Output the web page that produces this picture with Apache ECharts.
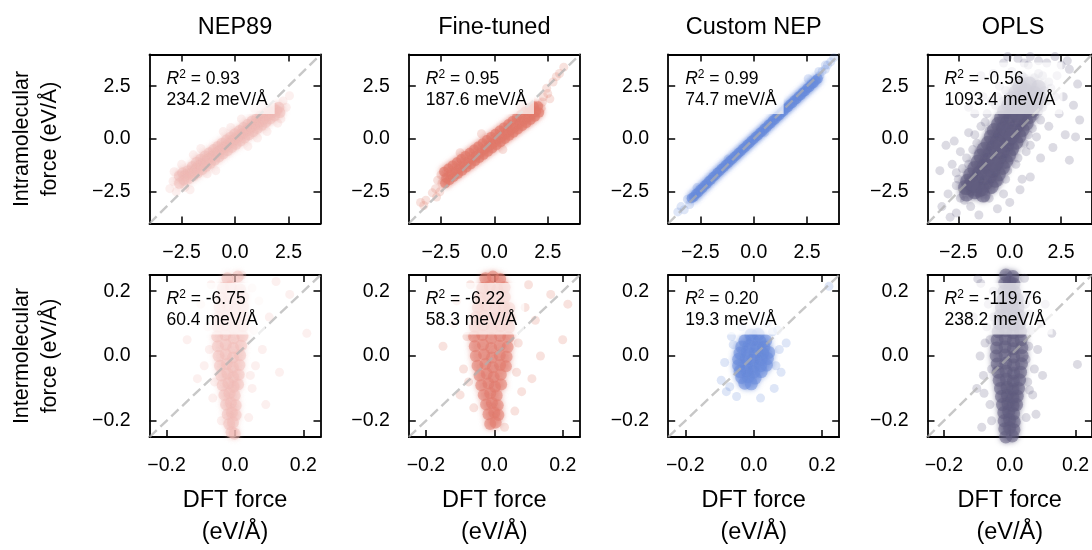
<!DOCTYPE html>
<html><head><meta charset="utf-8">
<script src="https://cdn.jsdelivr.net/npm/echarts@6/dist/echarts.min.js"></script>
<style>html,body{margin:0;padding:0;background:#fff}#c{width:1092px;height:550px}</style>
</head><body><div id="c"></div>
<script>
// ---------- data ----------
const models = ['NEP89', 'Fine-tuned', 'Custom NEP', 'OPLS'];
const rowLabels = ['Intramolecular\nforce (eV/Å)', 'Intermolecular\nforce (eV/Å)'];
const xLabel = 'DFT force\n(eV/Å)';
const colors = ['#F0BBB5', '#E17A6B', '#698CDC', '#615D7F'];
const r2Intra = ['0.93', '0.95', '0.99', '-0.56'];
const rmseIntra = ['234.2', '187.6', '74.7', '1093.4'];
const r2Inter = ['-6.75', '-6.22', '0.20', '-119.76'];
const rmseInter = ['60.4', '58.3', '19.3', '238.2'];
const limIntra = [-4, 4];
const limInter = [-0.25, 0.25];
const ticksIntra = [-2.5, 0, 2.5];
const ticksInter = [-0.2, 0, 0.2];

const nep89IntraCore = [[-2.6,-1.75],[-2.6,-2.1],[-2.45,-1.6],[-2.4,-1.95],[-2.3,-1.7],[-2.2,-1.5],[-2.2,-1.9],[-2.05,-1.6],[-2.0,-1.3],[-1.95,-1.75],[-1.85,-1.4],[-1.8,-1.1],[-1.75,-1.6],[-1.65,-1.25],[-1.6,-0.95],[-1.55,-1.45],[-1.45,-1.1],[-1.4,-0.8],[-1.35,-1.3],[-1.25,-0.95],[-1.2,-0.65],[-1.15,-1.15],[-1.05,-0.8],[-1.0,-0.5],[-0.95,-1.0],[-0.85,-0.65],[-0.8,-0.35],[-0.75,-0.85],[-0.65,-0.5],[-0.6,-0.2],[-0.55,-0.7],[-0.45,-0.35],[-0.4,-0.05],[-0.35,-0.55],[-0.25,-0.2],[-0.2,0.1],[-0.15,-0.4],[-0.05,-0.05],[0.0,0.25],[0.05,-0.25],[0.15,0.1],[0.2,0.4],[0.25,-0.1],[0.35,0.25],[0.4,0.55],[0.45,0.05],[0.55,0.4],[0.6,0.7],[0.65,0.2],[0.75,0.55],[0.8,0.85],[0.85,0.35],[0.95,0.7],[1.0,0.95],[1.05,0.5],[1.15,0.8],[1.2,1.1],[1.25,0.65],[1.35,0.95],[1.4,1.2],[1.45,0.8],[1.55,1.1],[1.6,1.35],[1.65,0.95],[1.75,1.25],[1.8,1.45],[1.85,1.1],[1.95,1.35],[2.05,1.5],[2.1,1.25]];
const nep89IntraSparse = [[-3.05,-2.35],[-2.85,-1.55],[-2.75,-2.5],[-2.1,-2.4],[-1.95,-0.75],[-1.3,-1.65],[-0.9,-1.5],[-0.55,0.35],[0.3,0.95],[0.6,-0.35],[1.05,0.05],[1.5,0.35],[2.15,0.95],[2.25,1.8],[2.4,1.5],[2.55,2.05],[-2.5,-1.2],[0.9,1.45],[-1.6,-0.45],[2.0,0.75],[-2.9,-2.0],[-2.35,-2.3],[1.3,1.6],[-0.2,0.55]];

const ftIntraCore = [[-2.35,-1.55],[-2.3,-2.1],[-2.25,-1.85],[-2.15,-1.4],[-2.1,-1.95],[-2.05,-1.7],[-1.95,-1.25],[-1.9,-1.8],[-1.85,-1.55],[-1.75,-1.1],[-1.7,-1.65],[-1.65,-1.4],[-1.55,-0.95],[-1.5,-1.5],[-1.45,-1.25],[-1.35,-0.8],[-1.3,-1.35],[-1.25,-1.1],[-1.15,-0.65],[-1.1,-1.2],[-1.05,-0.95],[-0.95,-0.5],[-0.9,-1.05],[-0.85,-0.8],[-0.75,-0.35],[-0.7,-0.9],[-0.65,-0.65],[-0.55,-0.2],[-0.5,-0.75],[-0.45,-0.5],[-0.35,-0.05],[-0.3,-0.6],[-0.25,-0.35],[-0.15,0.1],[-0.1,-0.45],[-0.05,-0.2],[0.05,0.25],[0.1,-0.3],[0.15,-0.05],[0.25,0.4],[0.3,-0.15],[0.35,0.1],[0.45,0.55],[0.5,0.0],[0.55,0.25],[0.65,0.7],[0.7,0.15],[0.75,0.4],[0.85,0.85],[0.9,0.3],[0.95,0.55],[1.05,1.0],[1.1,0.45],[1.15,0.7],[1.25,1.15],[1.3,0.6],[1.35,0.85],[1.45,1.3],[1.5,0.75],[1.55,1.0],[1.65,1.45],[1.7,0.9],[1.75,1.15],[1.85,1.55],[1.9,1.05],[1.95,1.3],[2.05,1.55],[2.1,1.25]];
const ftIntraSparse = [[-3.45,-3.0],[-3.3,-3.15],[-3.2,-2.9],[-2.9,-2.55],[-2.75,-2.35],[-2.65,-1.95],[-2.55,-2.5],[-2.7,-2.75],[-1.6,-0.65],[-0.6,0.25],[0.4,-0.5],[1.2,1.6],[2.2,1.45],[2.3,2.0],[2.45,2.4],[2.6,1.9],[2.75,2.7],[2.9,2.95],[3.05,3.1],[3.25,3.4],[2.5,2.15],[-2.45,-2.1],[-2.5,-1.7],[2.25,1.75]];

const customIntraCore = [[-2.9,-2.8],[-2.8,-2.73],[-2.7,-2.6],[-2.6,-2.53],[-2.5,-2.4],[-2.4,-2.33],[-2.3,-2.2],[-2.2,-2.13],[-2.1,-2.0],[-2.0,-1.93],[-1.9,-1.8],[-1.8,-1.73],[-1.7,-1.6],[-1.6,-1.53],[-1.5,-1.41],[-1.4,-1.34],[-1.3,-1.22],[-1.2,-1.15],[-1.1,-1.03],[-1.0,-0.96],[-0.9,-0.84],[-0.8,-0.77],[-0.7,-0.65],[-0.6,-0.58],[-0.5,-0.46],[-0.4,-0.39],[-0.3,-0.27],[-0.2,-0.2],[-0.1,-0.08],[0.0,-0.01],[0.1,0.11],[0.2,0.17],[0.3,0.3],[0.4,0.36],[0.5,0.49],[0.6,0.55],[0.7,0.68],[0.8,0.74],[0.9,0.87],[1.0,0.93],[1.1,1.06],[1.2,1.12],[1.3,1.25],[1.4,1.31],[1.5,1.44],[1.6,1.5],[1.7,1.63],[1.8,1.69],[1.9,1.82],[2.0,1.88],[2.1,2.01],[2.2,2.07],[2.3,2.2],[2.4,2.26],[2.5,2.39],[2.6,2.45],[2.7,2.58],[2.8,2.64],[2.9,2.77],[3.0,2.85]];
const customIntraSparse = [[-3.55,-3.45],[-3.4,-3.2],[-3.25,-3.35],[-3.1,-2.85],[-3.0,-3.1],[-2.65,-2.3],[3.1,3.0],[3.2,3.2],[3.35,3.3],[3.45,3.5],[3.6,3.65],[3.75,3.85],[2.55,2.85],[-1.2,-0.95],[0.5,0.3],[3.05,3.2],[3.35,3.5]];

const oplsIntraCore = [[-2.1,-2.6],[-1.7,-2.5],[-1.3,-2.65],[-2.15,-2.3],[-1.75,-2.2],[-1.35,-2.35],[-0.9,-2.25],[-2.05,-2.0],[-1.6,-1.9],[-1.15,-2.05],[-0.7,-1.95],[-1.9,-1.7],[-1.45,-1.6],[-1.0,-1.75],[-0.55,-1.65],[-1.7,-1.4],[-1.25,-1.3],[-0.8,-1.45],[-0.35,-1.35],[-1.55,-1.1],[-1.1,-1.0],[-0.65,-1.15],[-0.2,-1.05],[-1.4,-0.8],[-0.95,-0.7],[-0.5,-0.85],[-0.05,-0.75],[-1.25,-0.5],[-0.8,-0.4],[-0.35,-0.55],[0.1,-0.45],[-1.05,-0.2],[-0.6,-0.1],[-0.15,-0.25],[0.3,-0.15],[-0.9,0.1],[-0.45,0.2],[0.0,0.05],[0.45,0.15],[-0.75,0.4],[-0.3,0.5],[0.15,0.35],[0.6,0.45],[-0.55,0.7],[-0.1,0.8],[0.35,0.65],[0.8,0.75],[-0.4,1.0],[0.05,1.1],[0.5,0.95],[0.95,1.05],[-0.25,1.3],[0.2,1.4],[0.65,1.25],[1.1,1.35],[-0.05,1.6],[0.4,1.7],[0.85,1.55],[1.3,1.65],[0.1,1.9],[0.55,2.0],[1.0,1.85],[1.45,1.95],[0.3,2.2],[0.75,2.3],[1.2,2.15],[0.5,2.5],[0.95,2.6],[1.4,2.45],[-1.5,-2.4],[-1.2,-1.55],[-0.75,-1.2],[-0.45,-0.3],[-0.2,0.45],[0.35,1.2],[0.7,1.9],[-1.85,-2.1],[0.1,0.15]];
const oplsIntraSparse = [[-3.3,-3.2],[-3.0,-2.6],[-2.8,-1.2],[-2.6,-3.5],[-2.4,-0.6],[-2.2,-2.9],[-2.0,0.3],[-1.9,-3.2],[-1.7,1.2],[-1.6,-0.2],[-1.5,-3.6],[-1.3,2.0],[-1.2,0.8],[-1.0,-2.8],[-0.9,1.8],[-0.8,3.1],[-0.6,-3.3],[-0.5,2.5],[-0.3,3.6],[-0.2,-1.9],[0.0,-3.0],[0.1,3.2],[0.3,-1.2],[0.4,3.8],[0.5,-2.4],[0.7,2.9],[0.8,-0.6],[0.9,3.5],[1.0,-1.8],[1.1,2.2],[1.3,0.1],[1.4,3.1],[1.5,-0.9],[1.6,1.5],[1.8,3.6],[1.9,0.6],[2.0,2.4],[2.1,-0.4],[2.3,3.0],[2.4,1.2],[2.6,2.0],[2.7,0.2],[2.9,3.3],[3.1,1.6],[3.3,2.6],[-2.5,-1.9],[-1.1,-1.5],[0.2,1.4],[1.2,1.1],[-0.4,0.9],[-3.1,-0.3],[3.4,0.9],[-0.7,-0.3],[0.6,0.7],[2.2,3.9],[1.0,3.9],[-2.9,-3.7],[-2.6,-2.2],[-2.4,-2.8],[-1.9,-2.5],[-1.2,-2.8],[-0.5,-2.0],[-0.1,-1.5],[0.4,-0.9],[0.7,-0.2],[1.1,0.5],[1.5,0.9],[1.8,1.8],[1.9,2.7],[1.6,3.0],[1.2,2.9],[0.6,3.0],[0.2,2.7],[-0.2,2.3],[-0.7,1.6],[-1.1,1.2],[-1.4,0.6],[-1.7,0.2],[-1.8,-0.5],[-2.1,-0.9],[-2.3,-1.4],[-2.6,-1.6],[-0.9,-2.4],[0.2,-0.6],[0.9,0.2],[1.4,1.3],[1.7,2.3],[-0.6,2.0],[-1.0,0.4],[-1.5,-0.6],[-2.0,-1.2],[0.0,-1.0],[-0.3,1.8],[2.2,2.0],[0.4,2.9],[-2.2,-2.4],[1.0,-0.3],[2.5,3.5],[2.8,3.7],[1.4,3.7],[0.7,3.6],[-0.1,3.9],[-1.4,3.0],[-2.0,1.5],[-3.4,-1.5],[-2.7,-0.1],[3.2,0.1],[2.9,-1.0],[0.6,-1.9],[-0.3,-2.6]];

const nep89InterCore = [[-0.022,0.24],[0.008,0.245],[-0.035,0.21],[-0.012,0.215],[0.015,0.205],[-0.04,0.18],[-0.018,0.185],[0.005,0.175],[0.024,0.182],[-0.045,0.15],[-0.022,0.155],[0.0,0.145],[0.024,0.152],[-0.048,0.12],[-0.025,0.125],[0.0,0.115],[0.025,0.122],[-0.05,0.09],[-0.027,0.095],[-0.003,0.085],[0.023,0.092],[-0.052,0.06],[-0.028,0.065],[-0.004,0.055],[0.022,0.062],[-0.05,0.03],[-0.027,0.035],[-0.005,0.025],[0.018,0.032],[-0.048,0.0],[-0.027,0.005],[-0.006,-0.005],[0.015,0.002],[-0.044,-0.03],[-0.024,-0.025],[-0.006,-0.035],[0.013,-0.028],[-0.04,-0.06],[-0.022,-0.055],[-0.005,-0.065],[0.011,-0.058],[-0.036,-0.09],[-0.019,-0.085],[-0.004,-0.095],[0.009,-0.088],[-0.031,-0.12],[-0.016,-0.115],[-0.001,-0.122],[-0.026,-0.15],[-0.012,-0.145],[0.002,-0.152],[-0.021,-0.18],[-0.009,-0.175],[0.002,-0.182],[-0.017,-0.21],[-0.006,-0.205],[-0.01,-0.235],[-0.001,-0.24]];
const nep89InterSparse = [[-0.14,0.05],[0.13,-0.05],[0.21,0.07],[-0.09,-0.03],[0.08,0.02],[-0.065,-0.13],[0.05,-0.1],[0.07,0.17],[-0.1,0.16],[0.12,0.23],[0.02,0.25],[0.04,-0.19],[0.1,0.12],[-0.08,0.09],[0.06,-0.03],[-0.11,-0.07],[0.16,0.19],[-0.04,-0.2],[0.09,-0.15],[-0.07,0.22],[0.05,0.21],[-0.075,0.02],[0.055,0.08],[-0.06,-0.08],[0.045,-0.06]];

const ftInterCore = [[-0.026,0.24],[-0.004,0.245],[0.017,0.238],[-0.035,0.21],[-0.013,0.215],[0.009,0.205],[0.03,0.212],[-0.042,0.18],[-0.018,0.185],[0.007,0.175],[0.031,0.182],[-0.048,0.15],[-0.024,0.155],[0.003,0.145],[0.028,0.152],[0.044,0.148],[-0.054,0.12],[-0.029,0.125],[-0.004,0.115],[0.022,0.122],[0.045,0.118],[-0.057,0.09],[-0.032,0.095],[-0.007,0.085],[0.019,0.092],[0.043,0.088],[-0.059,0.06],[-0.035,0.065],[-0.009,0.055],[0.017,0.062],[0.041,0.058],[-0.057,0.03],[-0.033,0.035],[-0.009,0.025],[0.016,0.032],[0.039,0.028],[-0.054,0.0],[-0.03,0.005],[-0.007,-0.005],[0.016,0.002],[0.036,-0.002],[-0.049,-0.03],[-0.026,-0.025],[-0.004,-0.035],[0.017,-0.028],[0.034,-0.032],[-0.043,-0.06],[-0.022,-0.055],[-0.002,-0.065],[0.019,-0.058],[-0.038,-0.09],[-0.017,-0.085],[0.002,-0.095],[0.02,-0.088],[-0.031,-0.12],[-0.012,-0.115],[0.007,-0.122],[-0.024,-0.15],[-0.007,-0.145],[0.01,-0.152],[-0.017,-0.18],[0.0,-0.175],[0.012,-0.182],[-0.012,-0.21],[0.004,-0.205]];
const ftInterSparse = [[0.2,0.05],[0.165,0.19],[-0.12,0.1],[0.11,-0.07],[-0.1,-0.12],[0.09,0.15],[0.135,0.0],[-0.15,0.03],[0.06,-0.17],[-0.07,0.22],[0.12,0.11],[0.215,0.16],[-0.09,-0.04],[0.08,-0.11],[-0.06,-0.16],[0.07,0.04],[-0.11,0.17],[0.03,-0.22],[0.1,0.22],[-0.08,0.06],[0.065,-0.05],[-0.075,-0.08]];

const customInterCore = [[-0.008,0.065],[0.013,0.067],[-0.026,0.047],[-0.004,0.049],[0.018,0.045],[0.035,0.047],[-0.035,0.028],[-0.013,0.03],[0.009,0.026],[0.03,0.028],[-0.04,0.009],[-0.018,0.011],[0.004,0.007],[0.026,0.009],[0.044,0.011],[-0.044,-0.01],[-0.022,-0.008],[0.0,-0.012],[0.022,-0.01],[0.04,-0.008],[-0.044,-0.03],[-0.022,-0.028],[0.0,-0.032],[0.02,-0.03],[0.037,-0.028],[-0.04,-0.048],[-0.02,-0.046],[0.0,-0.05],[0.022,-0.048],[-0.035,-0.066],[-0.016,-0.064],[0.004,-0.068],[-0.026,-0.084],[-0.007,-0.086]];
const customInterSparse = [[-0.08,-0.11],[0.07,0.08],[-0.085,-0.02],[0.08,-0.05],[0.04,0.1],[-0.05,-0.125],[0.095,0.04],[-0.095,-0.075],[0.02,-0.13],[-0.035,0.09],[0.22,0.215],[0.06,-0.1],[-0.065,0.06],[0.075,0.02],[-0.07,-0.095],[0.055,0.075],[-0.06,0.035],[0.065,-0.03]];

const oplsInterCore = [[-0.012,0.25],[0.01,0.245],[-0.015,0.225],[0.0,0.228],[0.013,0.222],[-0.017,0.2],[0.0,0.205],[0.015,0.198],[-0.021,0.175],[-0.004,0.178],[0.012,0.172],[0.023,0.176],[-0.025,0.15],[-0.008,0.153],[0.008,0.147],[0.025,0.15],[-0.029,0.125],[-0.01,0.128],[0.01,0.122],[0.028,0.126],[-0.032,0.1],[-0.011,0.103],[0.01,0.097],[0.03,0.1],[-0.035,0.075],[-0.012,0.078],[0.01,0.072],[0.033,0.076],[-0.038,0.05],[-0.013,0.053],[0.011,0.047],[0.035,0.05],[-0.04,0.025],[-0.014,0.028],[0.011,0.022],[0.037,0.026],[-0.041,0.0],[-0.014,0.003],[0.012,-0.003],[0.038,0.001],[-0.038,-0.025],[-0.012,-0.022],[0.012,-0.028],[0.036,-0.024],[-0.035,-0.05],[-0.011,-0.047],[0.012,-0.053],[0.033,-0.05],[-0.032,-0.075],[-0.01,-0.072],[0.011,-0.078],[0.03,-0.074],[-0.028,-0.1],[-0.008,-0.097],[0.01,-0.103],[0.027,-0.1],[-0.025,-0.125],[-0.007,-0.122],[0.01,-0.128],[0.023,-0.124],[-0.022,-0.15],[-0.005,-0.147],[0.01,-0.153],[0.021,-0.15],[-0.018,-0.175],[-0.003,-0.172],[0.012,-0.178],[-0.017,-0.2],[0.0,-0.197],[0.014,-0.203],[-0.015,-0.225],[0.0,-0.222],[0.013,-0.228],[-0.012,-0.25],[0.008,-0.247]];
const oplsInterSparse = [[-0.097,0.238],[0.206,-0.026],[0.128,0.07],[-0.07,0.09],[0.075,-0.04],[-0.08,-0.06],[0.06,0.13],[-0.065,0.16],[0.085,0.02],[-0.09,0.0],[0.07,-0.12],[-0.06,-0.15],[0.05,-0.19],[-0.05,0.2],[0.095,0.1],[-0.1,-0.1],[0.06,0.19],[-0.075,0.04],[0.055,-0.08],[-0.055,-0.2],[0.1,-0.06],[-0.11,0.12],[0.045,0.24],[0.08,-0.18],[-0.085,-0.22],[0.065,0.08],[-0.088,0.224],[0.108,0.16],[-0.078,-0.115],[0.06,-0.105],[-0.06,0.05],[0.058,0.03],[-0.055,-0.04],[0.05,-0.01],[-0.05,0.12],[0.048,0.16]];

const coreData = [[nep89IntraCore, ftIntraCore, customIntraCore, oplsIntraCore],
                  [nep89InterCore, ftInterCore, customInterCore, oplsInterCore]];
const sparseData = [[nep89IntraSparse, ftIntraSparse, customIntraSparse, oplsIntraSparse],
                    [nep89InterSparse, ftInterSparse, customInterSparse, oplsInterSparse]];

// ---------- layout / style ----------
const FONT = 'Liberation Sans, Arial, sans-serif';
const colLeft = [149.5, 408.8, 668.2, 927.5];
const rowTop = [54.5, 275];
const W = 171, H = 169;
const coreSize = [[11, 10, 10, 15], [12, 12, 13, 13]];
const coreOpacity = [[0.45, 0.6, 0.6, 0.5], [0.42, 0.5, 0.5, 0.5]];
const fmt = v => (v < 0 ? '\u2212' : '') + Math.abs(v).toFixed(1);

const grid = [], xAxis = [], yAxis = [], series = [], title = [];
for (let r = 0; r < 2; r++) {
  const lim = r === 0 ? limIntra : limInter;
  const ticks = r === 0 ? ticksIntra : ticksInter;
  const r2 = r === 0 ? r2Intra : r2Inter;
  const rmse = r === 0 ? rmseIntra : rmseInter;
  for (let c = 0; c < 4; c++) {
    const g = r * 4 + c;
    grid.push({left: colLeft[c], top: rowTop[r], width: W, height: H, containLabel: false});
    const line = {show: true, onZero: false, lineStyle: {color: '#000', width: 1.8}};
    const tick = {show: true, inside: true, length: 7, customValues: ticks, lineStyle: {color: '#000', width: 1.5}};
    const lbl = {show: true, customValues: ticks, formatter: fmt, color: '#000', fontSize: 19.5, fontFamily: FONT};
    xAxis.push({
      type: 'value', gridIndex: g, position: 'bottom', min: lim[0], max: lim[1],
      axisLine: line, axisTick: tick, splitLine: {show: false},
      axisLabel: Object.assign({}, lbl, {margin: 19}),
      name: r === 1 ? xLabel : '', nameLocation: 'middle', nameGap: 48,
      nameTextStyle: {fontSize: 23.5, lineHeight: 32, color: '#000', fontFamily: FONT}
    });
    xAxis.push({
      type: 'value', gridIndex: g, position: 'top', min: lim[0], max: lim[1],
      axisLine: line, axisTick: tick, splitLine: {show: false}, axisLabel: {show: false}
    });
    yAxis.push({
      type: 'value', gridIndex: g, position: 'left', min: lim[0], max: lim[1],
      axisLine: line, axisTick: tick, splitLine: {show: false},
      axisLabel: Object.assign({}, lbl, {margin: 19}),
      name: c === 0 ? rowLabels[r] : '', nameLocation: 'middle', nameGap: 85, nameRotate: 90,
      nameTextStyle: {fontSize: 21.5, lineHeight: 28, color: '#000', fontFamily: FONT}
    });
    yAxis.push({
      type: 'value', gridIndex: g, position: 'right', min: lim[0], max: lim[1],
      axisLine: line, axisTick: tick, splitLine: {show: false}, axisLabel: {show: false}
    });
    series.push({
      type: 'scatter', xAxisIndex: 2 * g, yAxisIndex: 2 * g, data: sparseData[r][c],
      symbolSize: 9, silent: true, z: 2,
      itemStyle: {color: colors[c], opacity: 0.22}
    });
    series.push({
      type: 'scatter', xAxisIndex: 2 * g, yAxisIndex: 2 * g, data: coreData[r][c],
      symbolSize: coreSize[r][c], silent: true, z: 3,
      itemStyle: {color: colors[c], opacity: coreOpacity[r][c], shadowBlur: 5, shadowColor: colors[c]}
    });
    series.push({
      type: 'line', xAxisIndex: 2 * g, yAxisIndex: 2 * g,
      data: [[lim[0], lim[0]], [lim[1], lim[1]]], symbol: 'none', silent: true, z: 4,
      lineStyle: {type: [10, 5], color: 'rgba(175,175,175,0.7)', width: 2.4}
    });
    title.push({
      left: colLeft[c] + 10, top: rowTop[r] + 8,
      text: '{i|R}{s|2}{n| = ' + r2[c] + '}\n{n|' + rmse[c] + ' meV/Å}',
      backgroundColor: 'rgba(255,255,255,0.7)', padding: [6, 7, 5, 7],
      textStyle: {
        fontWeight: 'normal',
        rich: {
          i: {fontStyle: 'italic', fontWeight: 'normal', fontSize: 17.5, fontFamily: FONT, color: '#000', lineHeight: 21},
          s: {fontSize: 12, fontWeight: 'normal', fontFamily: FONT, color: '#000', lineHeight: 9, verticalAlign: 'top'},
          n: {fontSize: 17.5, fontWeight: 'normal', fontFamily: FONT, color: '#000', lineHeight: 21}
        }
      },
      z: 10
    });
  }
}
for (let c = 0; c < 4; c++) {
  title.push({
    text: models[c], left: colLeft[c] + W / 2, top: 16, textAlign: 'center', padding: 0,
    textStyle: {fontSize: 23.5, fontWeight: 'normal', color: '#000', fontFamily: FONT}
  });
}

const chart = echarts.init(document.getElementById('c'), null, {renderer: 'canvas'});
chart.setOption({animation: false, backgroundColor: '#fff', title, grid, xAxis, yAxis, series});
</script>
</body></html>
